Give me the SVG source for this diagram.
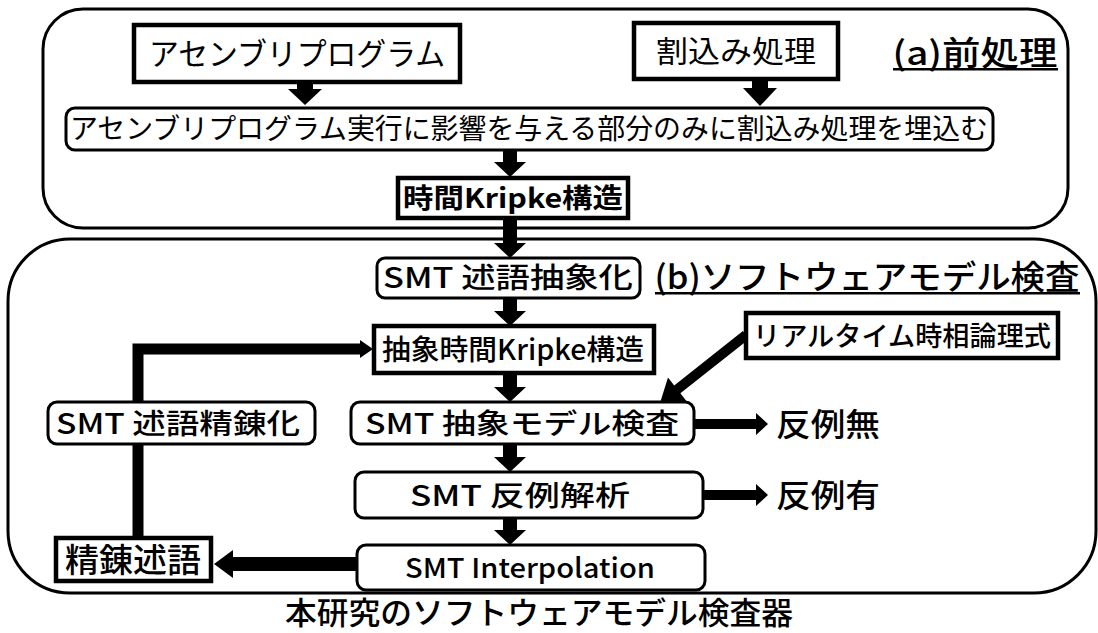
<svg xmlns="http://www.w3.org/2000/svg" width="1098" height="633" viewBox="0 0 1098 633">
<style>
.frame{fill:none;stroke:#000;stroke-width:3}
.sq{fill:#fff;stroke:#000;stroke-width:4.5}
.rd{fill:#fff;stroke:#000;stroke-width:3}
.t{font-family:"Noto Sans CJK JP","Noto Sans",sans-serif;fill:#000;text-anchor:middle;font-weight:500}
.r{font-weight:400}
.b{font-weight:bold}
.arr{fill:#000;stroke:none}
</style>
<rect width="1098" height="633" fill="#fff"/>
<g id="frame-a">
<rect class="frame" x="43" y="9" width="1025" height="219" rx="40"/>
<text class="t" x="975" y="65" font-size="33" textLength="165" lengthAdjust="spacingAndGlyphs">(a)前処理</text>
<rect x="893" y="68" width="165" height="2.5" fill="#000"/>
</g>
<g id="frame-b">
<rect class="frame" x="8" y="239" width="1088" height="354" rx="62"/>
<text class="t" x="867" y="289" font-size="33" textLength="425" lengthAdjust="spacingAndGlyphs">(b)ソフトウェアモデル検査</text>
<rect x="655" y="292" width="425" height="2.5" fill="#000"/>
</g>
<g id="connectors">
<polygon class="arr" points="297,83 313,83 313,89 322,89 305,105 288,89 297,89"/>
<polygon class="arr" points="752,80 768,80 768,88 777,88 760,106 743,88 752,88"/>
<polygon class="arr" points="503,150 517,150 517,162 526,162 510,177 494,162 503,162"/>
<polygon class="arr" points="503,218 517,218 517,243 526,243 510,258 494,243 503,243"/>
<polygon class="arr" points="503,298 517,298 517,311 526,311 510,326 494,311 503,311"/>
<polygon class="arr" points="503,373 517,373 517,387 526,387 510,402 494,387 503,387"/>
<polygon class="arr" points="503,444 517,444 517,457 526,457 510,472 494,457 503,457"/>
<polygon class="arr" points="503,518 517,518 517,530 526,530 510,545 494,530 503,530"/>
<polygon class="arr" points="693,419 756,419 756,413 768,424 756,435 756,429 693,429"/>
<polygon class="arr" points="702,490 756,490 756,484 768,495 756,506 756,500 702,500"/>
<polygon class="arr" points="357,557 233,557 233,550 214,564 233,578 233,571 357,571"/>
<polygon class="arr" points="749.1,338.9 680.4,393.3 686.6,401.2 660,403 668,377.6 674.2,385.5 742.9,331.1"/>
<path d="M138,537 V444" stroke="#000" stroke-width="11" fill="none"/>
<path d="M138,402 V349 H362" stroke="#000" stroke-width="11" fill="none"/>
<polygon class="arr" points="360,340 373,349 360,358"/>
</g>
<g id="n-asm">
<rect class="sq" x="134" y="25" width="326" height="57"/>
<text class="t r" x="297" y="65" font-size="31" textLength="296" lengthAdjust="spacingAndGlyphs">アセンブリプログラム</text>
</g>
<g id="n-intr">
<rect class="sq" x="634" y="23" width="204" height="56"/>
<text class="t r" x="736" y="62" font-size="30" textLength="160" lengthAdjust="spacingAndGlyphs">割込み処理</text>
</g>
<g id="n-embed">
<rect class="rd" x="66" y="108" width="927" height="42" rx="9"/>
<text class="t r" x="529" y="139" font-size="28" textLength="918" lengthAdjust="spacingAndGlyphs">アセンブリプログラム実行に影響を与える部分のみに割込み処理を埋込む</text>
</g>
<g id="n-tkripke">
<rect class="sq" x="398" y="178" width="230" height="40"/>
<text class="t b" x="513" y="208" font-size="27" textLength="220" lengthAdjust="spacingAndGlyphs">時間Kripke構造</text>
</g>
<g id="n-abs">
<rect class="rd" x="377" y="258" width="263" height="40" rx="8"/>
<text class="t" x="508" y="288" font-size="28" textLength="250" lengthAdjust="spacingAndGlyphs">SMT 述語抽象化</text>
</g>
<g id="n-atkripke">
<rect class="sq" x="374" y="326" width="280" height="47"/>
<text class="t" x="513" y="360" font-size="28" textLength="262" lengthAdjust="spacingAndGlyphs">抽象時間Kripke構造</text>
</g>
<g id="n-rtl">
<rect class="sq" x="746" y="313" width="312" height="45"/>
<text class="t" x="902" y="346" font-size="27" textLength="298" lengthAdjust="spacingAndGlyphs">リアルタイム時相論理式</text>
</g>
<g id="n-amc">
<rect class="rd" x="351" y="402" width="343" height="42" rx="9"/>
<text class="t" x="522" y="434" font-size="28" textLength="314" lengthAdjust="spacingAndGlyphs">SMT 抽象モデル検査</text>
</g>
<g id="n-noce">
<text class="t" x="828" y="436" font-size="32" textLength="104" lengthAdjust="spacingAndGlyphs">反例無</text>
</g>
<g id="n-cea">
<rect class="rd" x="355" y="472" width="348" height="46" rx="9"/>
<text class="t" x="520" y="506" font-size="28" textLength="220" lengthAdjust="spacingAndGlyphs">SMT 反例解析</text>
</g>
<g id="n-ce">
<text class="t" x="828" y="507" font-size="32" textLength="104" lengthAdjust="spacingAndGlyphs">反例有</text>
</g>
<g id="n-interp">
<rect class="rd" x="357" y="545" width="348" height="45" rx="9"/>
<text class="t" x="530" y="578" font-size="27" textLength="250" lengthAdjust="spacingAndGlyphs">SMT Interpolation</text>
</g>
<g id="n-refpred">
<rect class="sq" x="56" y="538" width="155" height="43"/>
<text class="t" x="133" y="572" font-size="33" textLength="136" lengthAdjust="spacingAndGlyphs">精錬述語</text>
</g>
<g id="n-refine">
<rect class="rd" x="48" y="402" width="267" height="42" rx="9"/>
<text class="t" x="178" y="434" font-size="28" textLength="244" lengthAdjust="spacingAndGlyphs">SMT 述語精錬化</text>
</g>
<g id="caption">
<text class="t" x="539" y="624" font-size="31" textLength="508" lengthAdjust="spacingAndGlyphs">本研究のソフトウェアモデル検査器</text>
</g>
</svg>
